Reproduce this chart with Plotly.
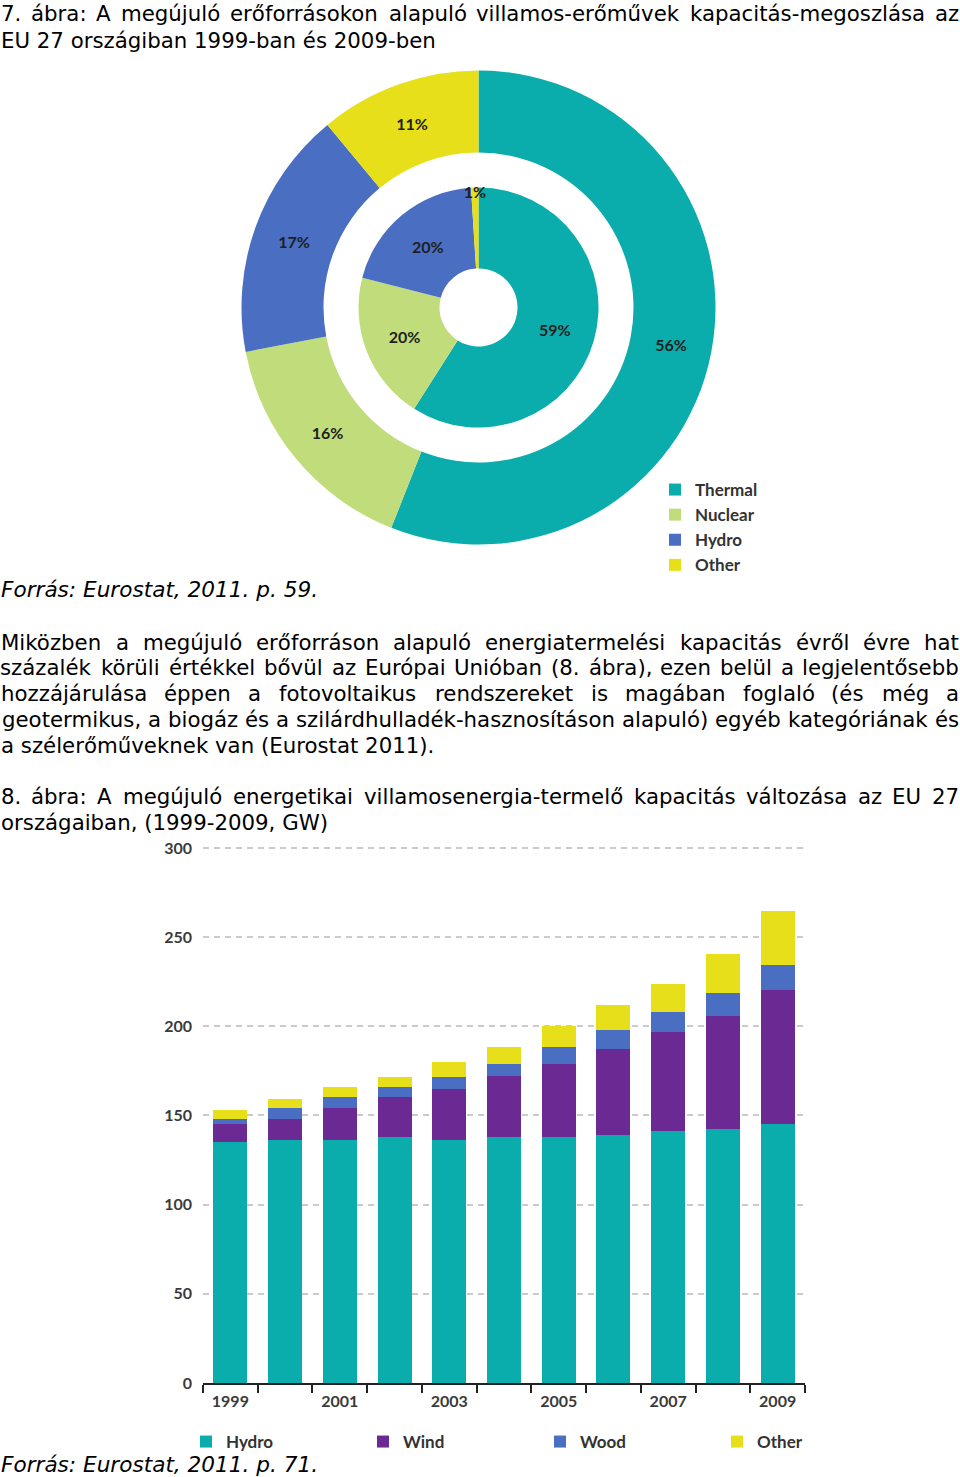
import unicodedata
import plotly.graph_objects as go

W, H = 960, 1477

# ---------------- data ----------------
pie_labels = ["Thermal", "Nuclear", "Hydro", "Other"]
pie_outer = [56, 16, 17, 11]   # outer ring
pie_inner = [59, 20, 20, 1]    # inner ring
pie_colors = ["#0aacac", "#c1dc7a", "#4a6fc2", "#e6df1a"]

years = list(range(1999, 2010))
year_ticks = [1999, 2001, 2003, 2005, 2007, 2009]
hydro = [135.3, 136.5, 136.5, 138.0, 136.5, 138.0, 138.0, 139.2, 141.3, 142.6, 145.0]
wind = [9.7, 11.7, 17.8, 22.5, 28.5, 34.1, 40.8, 48.1, 55.5, 63.4, 75.2]
wood = [3.2, 6.1, 5.8, 5.6, 6.7, 6.7, 9.8, 10.6, 11.4, 12.9, 14.1]
other = [5.1, 4.9, 6.0, 5.6, 8.4, 9.6, 11.8, 14.1, 15.6, 21.4, 30.5]
bar_names = ["Hydro", "Wind", "Wood", "Other"]
bar_colors = ["#0aacac", "#6b2a93", "#4a6fc2", "#e6df1a"]
y_ticks = [0, 50, 100, 150, 200, 250, 300]

# page text: (text, y_px, justified, italic)
page_lines = [
    ("7. ábra: A megújuló erőforrásokon alapuló villamos-erőművek kapacitás-megoszlása az", 14, True, False),
    ("EU 27 országiban 1999-ban és 2009-ben", 40, False, False),
    ("Forrás: Eurostat, 2011. p. 59.", 590, False, True),
    ("Miközben a megújuló erőforráson alapuló energiatermelési kapacitás évről évre hat", 642, True, False),
    ("százalék körüli értékkel bővül az Európai Unióban (8. ábra), ezen belül a legjelentősebb", 668, True, False),
    ("hozzájárulása éppen a fotovoltaikus rendszereket is magában foglaló (és még a", 693, True, False),
    ("geotermikus, a biogáz és a szilárdhulladék-hasznosításon alapuló) egyéb kategóriának és", 719, True, False),
    ("a szélerőműveknek van (Eurostat 2011).", 745, False, False),
    ("8. ábra: A megújuló energetikai villamosenergia-termelő kapacitás változása az EU 27", 796, True, False),
    ("országaiban, (1999-2009, GW)", 822, False, False),
    ("Forrás: Eurostat, 2011. p. 71.", 1464, False, True),
]

TEXT_FONT = "DejaVu Sans"
TEXT_SIZE = 21.3
ITALIC_SIZE = 21.6
CHART_FONT = "Lato, Roboto, sans-serif"

# approximate DejaVu Sans advance widths (units per em 2048)
ADV = {" ": 651, "a": 1255, "b": 1300, "c": 1126, "d": 1300, "e": 1260, "f": 721, "g": 1300,
       "h": 1298, "i": 569, "j": 569, "k": 1186, "l": 569, "m": 1995, "n": 1298, "o": 1253,
       "p": 1300, "q": 1300, "r": 842, "s": 1067, "t": 803, "u": 1298, "v": 1212, "w": 1675,
       "x": 1212, "y": 1212, "z": 1075, "A": 1401, "E": 1294, "F": 1178, "G": 1587, "M": 1767,
       "U": 1499, "W": 2025, ".": 651, ",": 651, ":": 690, "-": 739, "(": 799, ")": 799}


def text_w(s, size):
    tot = 0
    for ch in s:
        base = unicodedata.normalize("NFD", ch)[0]
        if base.isdigit():
            tot += 1303
        else:
            tot += ADV.get(base, 1250)
    return tot * size / 2048.0


def px(x):
    return x / W


def py(y):
    return 1 - y / H


fig = go.Figure()

# ---------------- donut chart ----------------
cx, cy, r_out, r_in = 478.5, 307.5, 237, 120
text_font_pie = dict(family=CHART_FONT, size=16, color="#1e1e1e", weight="bold")
fig.add_trace(go.Pie(
    labels=pie_labels, values=pie_outer, hole=0.654, sort=False, direction="clockwise",
    rotation=0, marker=dict(colors=pie_colors, line=dict(width=0)),
    texttemplate="%{value}%", textposition="inside", insidetextorientation="horizontal",
    textfont=text_font_pie, name="outer",
    domain=dict(x=[px(cx - r_out), px(cx + r_out)], y=[py(cy + r_out), py(cy - r_out)]),
    legend="legend",
))
fig.add_trace(go.Pie(
    labels=pie_labels, values=pie_inner, hole=0.325, sort=False, direction="clockwise",
    rotation=0, marker=dict(colors=pie_colors, line=dict(width=0)),
    texttemplate="%{value}%", textposition="inside", insidetextorientation="horizontal",
    textfont=text_font_pie, name="inner", showlegend=False,
    domain=dict(x=[px(cx - r_in), px(cx + r_in)], y=[py(cy + r_in), py(cy - r_in)]),
    legend="legend",
))

# ---------------- stacked bars ----------------
for name, vals, col in zip(bar_names, [hydro, wind, wood, other], bar_colors):
    fig.add_trace(go.Bar(x=years, y=vals, name=name, marker=dict(color=col, line=dict(width=0)),
                         legend="legend2"))

fig.update_layout(
    width=W, height=H, margin=dict(l=0, r=0, t=0, b=0, autoexpand=False),
    paper_bgcolor="white", plot_bgcolor="white",
    barmode="stack", bargap=0.38,
    uniformtext=dict(minsize=16, mode="show"),
    xaxis=dict(domain=[px(203), px(805)], range=[1998.5, 2009.5], tickmode="array",
               tickvals=year_ticks, ticktext=[str(v) for v in year_ticks], ticks="",
               showline=True, linecolor="#222", linewidth=2, showgrid=False, zeroline=False,
               ticklabelstandoff=3, automargin=False,
               tickfont=dict(family=CHART_FONT, size=16, color="#3a3a3a", weight="bold"),
               minor=dict(tickmode="array", tickvals=[1998.5 + i for i in range(12)],
                          ticks="outside", ticklen=8, tickwidth=2, tickcolor="#222", showgrid=False)),
    yaxis=dict(domain=[py(1383), py(1383 - 310 * 535 / 300)], range=[0, 310],
               tickmode="array", tickvals=y_ticks, ticks="", showline=False, zeroline=False,
               showgrid=True, gridcolor="#cbcbcb", gridwidth=2, griddash="6px,5px",
               ticklabelstandoff=10, automargin=False,
               tickfont=dict(family=CHART_FONT, size=16, color="#3a3a3a", weight="bold")),
    legend=dict(xref="container", yref="container", x=px(655), y=py(472),
                xanchor="left", yanchor="top", bgcolor="rgba(0,0,0,0)",
                font=dict(family=CHART_FONT, size=17, color="#333", weight="bold"),
                orientation="v", traceorder="normal"),
    legend2=dict(xref="container", yref="container", x=px(186), y=py(1424),
                 xanchor="left", yanchor="top", bgcolor="rgba(0,0,0,0)",
                 orientation="h", entrywidth=132, entrywidthmode="pixels", traceorder="normal",
                 font=dict(family=CHART_FONT, size=17, color="#333", weight="bold")),
    showlegend=True,
)

# ---------------- page text ----------------
annotations = []
for text, ypx, justify, italic in page_lines:
    size = ITALIC_SIZE if italic else TEXT_SIZE
    font = dict(family=TEXT_FONT, size=size, color="#000",
                style="italic" if italic else "normal")
    if not justify:
        annotations.append(dict(text=text, x=0, y=py(ypx), xref="paper", yref="paper",
                                xanchor="left", yanchor="middle", showarrow=False, font=font,
                                borderpad=0))
        continue
    words = text.split(" ")
    widths = [text_w(w, size) for w in words]
    gap = (W - 2 - sum(widths)) / (len(words) - 1)
    xpos = 1
    for w, wd in zip(words, widths):
        annotations.append(dict(text=w, x=px(xpos + wd / 2), y=py(ypx), xref="paper", yref="paper",
                                xanchor="center", yanchor="middle", showarrow=False, font=font,
                                borderpad=0))
        xpos += wd + gap

fig.update_layout(annotations=annotations)

fig.write_html("out.html", config={"displayModeBar": False},
               post_script="document.body.style.margin='0px';")
